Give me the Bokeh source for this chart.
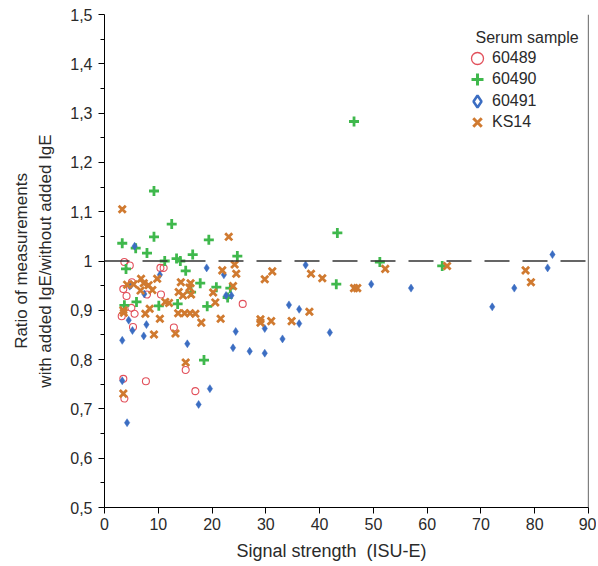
from bokeh.plotting import figure
from bokeh.models import Span, Legend, LegendItem, FixedTicker, ColumnDataSource, Label
from bokeh.embed import file_html
from bokeh.resources import INLINE

# ---- data ----
s60489_x = [3.7, 4.7, 10.4, 11.0, 5.1, 3.5, 4.1, 5.0, 5.6, 3.2, 5.3, 7.9, 10.5, 12.9, 3.5, 7.7, 3.7, 15.1, 16.9, 25.7]
s60489_y = [0.998, 0.991, 0.986, 0.986, 0.957, 0.943, 0.929, 0.905, 0.893, 0.888, 0.866, 0.932, 0.932, 0.865, 0.761, 0.756, 0.721, 0.779, 0.736, 0.913]

s60490_x = [3.3, 9.2, 12.5, 9.2, 5.8, 7.9, 11.2, 13.4, 14.1, 16.4, 19.4, 4.0, 15.1, 17.8, 20.8, 24.7, 23.4, 22.9,
            43.3, 43.1, 51.2, 46.4, 18.5, 5.95, 3.7, 10.1, 16.1, 19.1, 13.6, 62.8]
s60490_y = [1.036, 1.142, 1.075, 1.049, 1.026, 1.016, 1.0, 1.005, 1.0, 1.013, 1.043, 0.984, 0.98, 0.955, 0.947, 1.01, 0.945, 0.926,
            1.057, 0.953, 0.998, 1.283, 0.799, 0.917, 0.91, 0.909, 0.937, 0.908, 0.913, 0.99]

s60491_x = [5.6, 19.0, 22.2, 5.0, 10.3, 7.4, 4.5, 4.7, 22.6, 23.6, 5.2, 7.8, 7.3, 3.3, 15.4, 3.3, 4.2, 19.6, 17.5,
            37.4, 34.3, 36.2, 36.2, 24.4, 29.8, 33.1, 41.9, 23.9, 27.0, 29.8, 49.6, 57.0, 72.1, 76.2, 82.4, 83.3]
s60491_y = [1.030, 0.986, 0.972, 0.952, 0.972, 0.933, 0.880, 0.949, 0.930, 0.930, 0.859, 0.871, 0.848, 0.839, 0.832, 0.757, 0.672, 0.741, 0.709,
            0.992, 0.911, 0.902, 0.873, 0.857, 0.863, 0.842, 0.855, 0.824, 0.817, 0.813, 0.953, 0.945, 0.907, 0.945, 0.986, 1.013]

ks14_x = [3.3, 23.1, 21.9, 24.2, 24.5, 23.9, 29.8, 31.2, 38.4, 40.5, 46.4, 47.0, 52.2, 29.0, 29.0, 31.0, 34.8, 38.1,
          63.7, 78.3, 79.3, 3.5, 9.2, 13.2, 15.1, 10.3, 18.0, 13.7, 14.9, 15.9, 16.9, 7.6, 8.4, 3.6, 11.3, 12.0,
          13.8, 14.6, 15.8, 16.1, 20.2, 20.6, 6.7, 7.3, 4.2, 5.4, 6.8, 8.2, 8.9, 9.8, 3.5, 14.2, 16.0, 21.6]
ks14_y = [1.105, 1.049, 0.981, 0.993, 0.974, 0.949, 0.963, 0.979, 0.974, 0.965, 0.945, 0.945, 0.984, 0.882, 0.875, 0.878, 0.878, 0.897,
          0.99, 0.981, 0.957, 0.731, 0.851, 0.853, 0.794, 0.883, 0.875, 0.894, 0.894, 0.894, 0.893, 0.893, 0.903, 0.895, 0.917, 0.915,
          0.937, 0.93, 0.946, 0.932, 0.936, 0.916, 0.94, 0.955, 0.952, 0.953, 0.964, 0.951, 0.941, 0.964, 0.90, 0.957, 0.955, 0.883]

series_names = ["60489", "60490", "60491", "KS14"]
legend_title = "Serum sample"
x_title = "Signal strength\u00a0\u00a0(ISU-E)"
y_title = "Ratio of measurements\nwith added IgE/without added IgE"
x_ticks = [0, 10, 20, 30, 40, 50, 60, 70, 80, 90]
y_ticks = [0.5, 0.6, 0.7, 0.8, 0.9, 1.0, 1.1, 1.2, 1.3, 1.4, 1.5]
y_tick_labels = ["0,5", "0,6", "0,7", "0,8", "0,9", "1", "1,1", "1,2", "1,3", "1,4", "1,5"]
y_minor = [0.55, 0.65, 0.75, 0.85, 0.95, 1.05, 1.15, 1.25, 1.35, 1.45]

RED = "#e2505b"
GREEN = "#3fb84c"
BLUE = "#3b6dc2"
ORANGE = "#d07a30"
FONT = "Liberation Sans"
TXT = "#2a2a2a"

p = figure(width=596, height=565, x_range=(0, 90), y_range=(0.5, 1.5),
           output_backend="svg", toolbar_location=None,
           min_border_left=104, min_border_right=8, min_border_top=14, min_border_bottom=58)
p.grid.visible = False
p.outline_line_color = None

# axes
p.xaxis.ticker = FixedTicker(ticks=x_ticks)
p.yaxis.ticker = FixedTicker(ticks=y_ticks, minor_ticks=y_minor)
p.yaxis.major_label_overrides = {t: l for t, l in zip(y_ticks, y_tick_labels)}
for ax in (p.xaxis[0], p.yaxis[0]):
    ax.axis_line_color = "black"
    ax.axis_line_width = 1
    ax.major_tick_line_color = "black"
    ax.minor_tick_line_color = "black"
    ax.major_tick_in = 0
    ax.major_tick_out = 6
    ax.minor_tick_in = 0
    ax.major_label_text_font = FONT
    ax.major_label_text_font_size = "16px"
    ax.major_label_text_color = TXT
    ax.axis_label_text_font = FONT
    ax.axis_label_text_font_style = "normal"
    ax.axis_label_text_color = TXT
p.xaxis.minor_tick_out = 0
p.yaxis.minor_tick_out = 4
p.xaxis.major_label_standoff = 4
p.yaxis.major_label_standoff = 6
# trailing no-break spaces nudge the centred title toward the left, as in the original
p.xaxis.axis_label = x_title + "\u00a0" * 6
p.xaxis.axis_label_text_font_size = "18px"
p.xaxis.axis_label_standoff = 8
p.yaxis.axis_label = y_title
p.yaxis.axis_label_text_font_size = "17px"
p.yaxis.axis_label_standoff = 12
p.yaxis.axis_label_text_line_height = 1.3

# reference line and right border
p.add_layout(Span(location=1.0, dimension="width", line_color="#333333", line_width=1.5, line_dash="25 13"))
p.add_layout(Span(location=90, dimension="height", line_color="black", line_width=1.2))

# data
p.scatter(s60489_x, s60489_y, marker="circle", size=7, fill_color=None, line_color=RED, line_width=1.1)
p.scatter(s60490_x, s60490_y, marker="cross", size=10, line_color=GREEN, line_width=2.8)
p.scatter(s60491_x, s60491_y, marker="diamond", size=8, fill_color=BLUE, line_color=BLUE, line_width=0.5)
p.scatter(ks14_x, ks14_y, marker="x", size=10, line_color=ORANGE, line_width=2.8)

# legend proxies (not plotted: NaN position)
def proxy(**kw):
    src = ColumnDataSource(dict(x=[float("nan")], y=[float("nan")]))
    return p.scatter("x", "y", source=src, **kw)

proxies = [
    proxy(marker="circle", fill_color=None, line_color=RED, line_width=1.3),
    proxy(marker="cross", line_color=GREEN, line_width=3),
    proxy(marker="diamond", fill_color=None, line_color=BLUE, line_width=2.5),
    proxy(marker="x", line_color=ORANGE, line_width=3),
]
legend_bottoms = [434, 413, 391, 370]
for name, r, yb in zip(series_names, proxies, legend_bottoms):
    lg = Legend(items=[LegendItem(label=name, renderers=[r])], location=(358, yb),
                label_text_font=FONT, label_text_font_size="16px", label_text_color=TXT,
                glyph_width=30, glyph_height=30, label_height=30, label_standoff=-1,
                spacing=0, padding=0, margin=0,
                border_line_color=None, background_fill_alpha=0)
    p.add_layout(lg)
p.add_layout(Label(x=371, y=470, x_units="screen", y_units="screen", text=legend_title,
                   text_font=FONT, text_font_size="16px", text_color=TXT, text_baseline="middle"))

open("out.html", "w").write(file_html(p, INLINE))
